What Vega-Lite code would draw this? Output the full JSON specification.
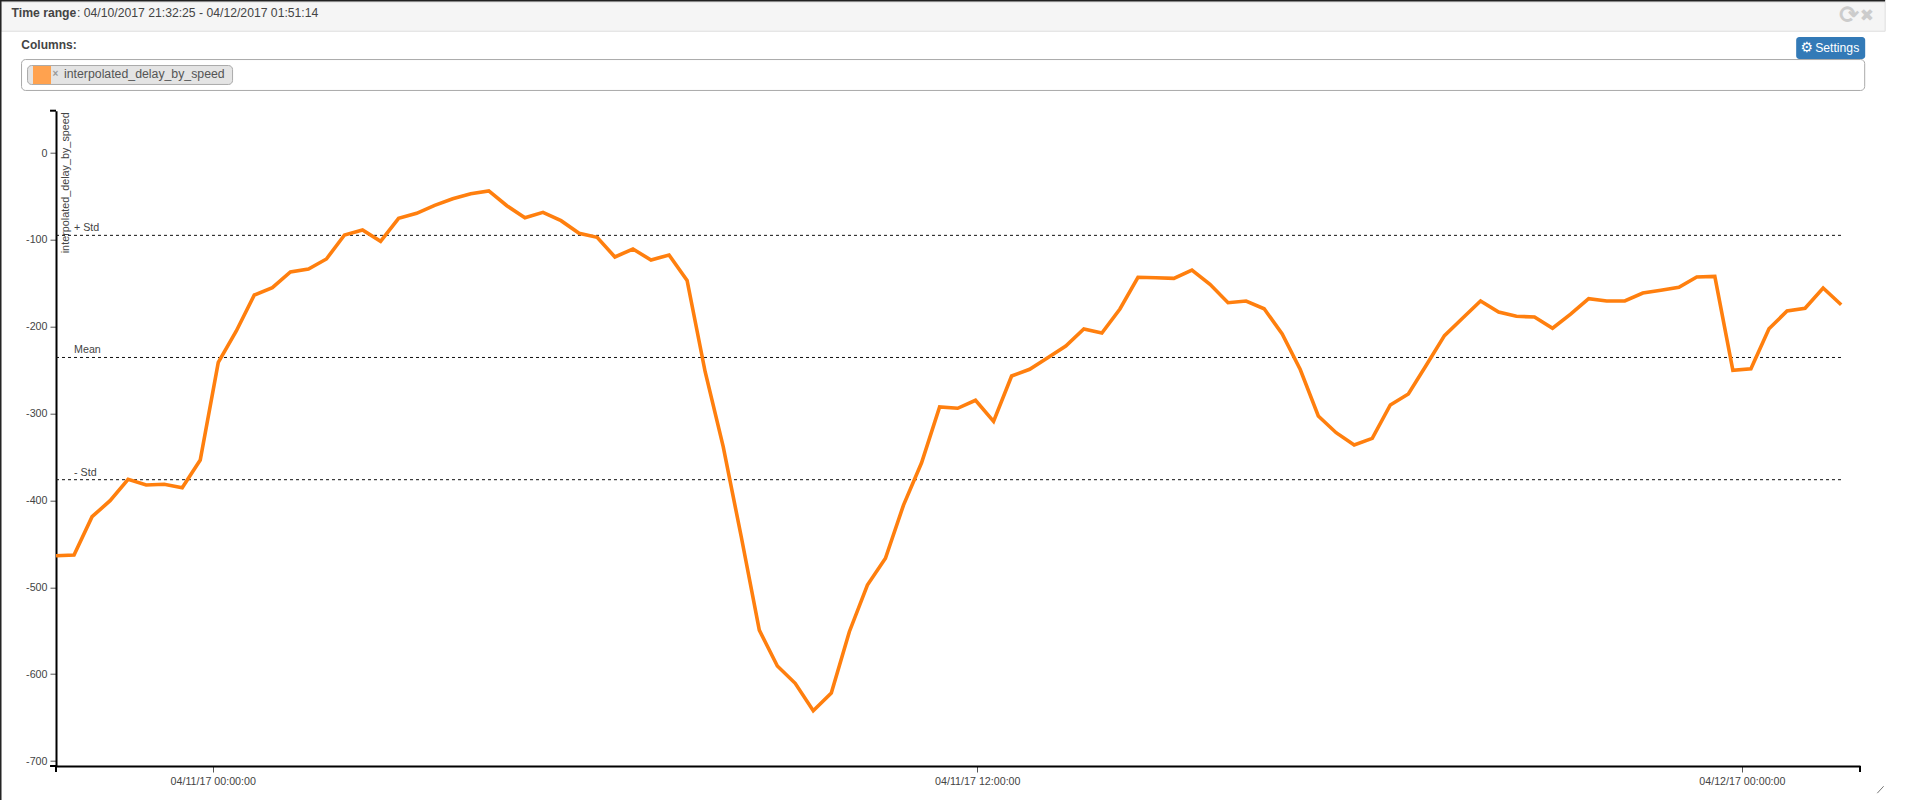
{"$schema":"https://vega.github.io/schema/vega-lite/v6.json","width":1804,"height":655.3,"autosize":{"type":"none"},"padding":{"left":56,"top":110.7,"right":60,"bottom":34},"background":"white","resolve":{"axis":{"x":"independent","y":"independent"}},"config":{"view":{"stroke":null},"font":"Liberation Sans","text":{"font":"Liberation Sans","align":"left","baseline":"alphabetic"}},
"datasets":{"series":[
{"t":"2017-04-10T21:32:25","v":-463.6},{"t":"2017-04-10T21:49:24","v":-462.8},{"t":"2017-04-10T22:06:23","v":-418.7},{"t":"2017-04-10T22:23:21","v":-400.3},{"t":"2017-04-10T22:40:20","v":-375.7},{"t":"2017-04-10T22:57:19","v":-382.2},{"t":"2017-04-10T23:14:18","v":-381.4},{"t":"2017-04-10T23:31:17","v":-385.3},{"t":"2017-04-10T23:48:15","v":-353.4},{"t":"2017-04-11T00:05:14","v":-241},
{"t":"2017-04-11T00:22:13","v":-204.9},{"t":"2017-04-11T00:39:10","v":-163.5},{"t":"2017-04-11T00:56:10","v":-155.1},{"t":"2017-04-11T01:13:10","v":-137},{"t":"2017-04-11T01:30:10","v":-133.5},{"t":"2017-04-11T01:47:05","v":-122},{"t":"2017-04-11T02:04:05","v":-94.4},{"t":"2017-04-11T02:21:05","v":-88.6},{"t":"2017-04-11T02:38:05","v":-101.7},{"t":"2017-04-11T02:55:02","v":-75.2},
{"t":"2017-04-11T03:12:01","v":-69.4},{"t":"2017-04-11T03:29:00","v":-60.2},{"t":"2017-04-11T03:46:00","v":-52.6},{"t":"2017-04-11T04:03:00","v":-46.9},{"t":"2017-04-11T04:20:00","v":-43.7},{"t":"2017-04-11T04:37:00","v":-60.7},{"t":"2017-04-11T04:54:00","v":-74.5},{"t":"2017-04-11T05:11:00","v":-68.3},{"t":"2017-04-11T05:28:00","v":-77.9},{"t":"2017-04-11T05:45:00","v":-92.4},
{"t":"2017-04-11T06:02:00","v":-97.1},{"t":"2017-04-11T06:18:43","v":-119.7},{"t":"2017-04-11T06:35:43","v":-110.5},{"t":"2017-04-11T06:52:43","v":-123.2},{"t":"2017-04-11T07:09:43","v":-117.4},{"t":"2017-04-11T07:26:43","v":-146.8},{"t":"2017-04-11T07:43:43","v":-251.8},{"t":"2017-04-11T08:00:43","v":-338.1},{"t":"2017-04-11T08:17:43","v":-441.8},{"t":"2017-04-11T08:34:43","v":-549.2},
{"t":"2017-04-11T08:51:43","v":-590.6},{"t":"2017-04-11T09:08:31","v":-610.5},{"t":"2017-04-11T09:25:31","v":-642.1},{"t":"2017-04-11T09:42:31","v":-621.7},{"t":"2017-04-11T09:59:31","v":-551.1},{"t":"2017-04-11T10:16:31","v":-497.4},{"t":"2017-04-11T10:33:31","v":-466.6},{"t":"2017-04-11T10:50:31","v":-405.3},{"t":"2017-04-11T11:07:31","v":-356.6},{"t":"2017-04-11T11:24:31","v":-292.4},
{"t":"2017-04-11T11:41:31","v":-293.9},{"t":"2017-04-11T11:58:19","v":-284.7},{"t":"2017-04-11T12:15:19","v":-308.9},{"t":"2017-04-11T12:32:19","v":-256.7},{"t":"2017-04-11T12:49:19","v":-249},{"t":"2017-04-11T13:06:19","v":-235.7},{"t":"2017-04-11T13:23:19","v":-222.2},{"t":"2017-04-11T13:40:19","v":-202.6},{"t":"2017-04-11T13:57:19","v":-207.2},{"t":"2017-04-11T14:14:19","v":-179.6},
{"t":"2017-04-11T14:31:19","v":-143.1},{"t":"2017-04-11T14:48:07","v":-143.6},{"t":"2017-04-11T15:05:07","v":-144.3},{"t":"2017-04-11T15:22:07","v":-134.7},{"t":"2017-04-11T15:39:07","v":-151.2},{"t":"2017-04-11T15:56:07","v":-172.3},{"t":"2017-04-11T16:13:07","v":-170.4},{"t":"2017-04-11T16:30:07","v":-179.3},{"t":"2017-04-11T16:47:07","v":-208.4},{"t":"2017-04-11T17:04:07","v":-249.3},
{"t":"2017-04-11T17:21:07","v":-302.8},{"t":"2017-04-11T17:37:55","v":-322},{"t":"2017-04-11T17:54:55","v":-336.2},{"t":"2017-04-11T18:11:55","v":-328.5},{"t":"2017-04-11T18:28:55","v":-290.1},{"t":"2017-04-11T18:45:55","v":-277.5},{"t":"2017-04-11T19:02:55","v":-244.1},{"t":"2017-04-11T19:19:55","v":-210.3},{"t":"2017-04-11T19:36:55","v":-190.3},{"t":"2017-04-11T19:53:55","v":-170.4},
{"t":"2017-04-11T20:10:55","v":-183.1},{"t":"2017-04-11T20:27:43","v":-188},{"t":"2017-04-11T20:44:43","v":-188.8},{"t":"2017-04-11T21:01:43","v":-201.8},{"t":"2017-04-11T21:18:43","v":-185.6},{"t":"2017-04-11T21:35:43","v":-167.7},{"t":"2017-04-11T21:52:43","v":-170.4},{"t":"2017-04-11T22:09:43","v":-170.4},{"t":"2017-04-11T22:26:43","v":-161.2},{"t":"2017-04-11T22:43:43","v":-158.1},
{"t":"2017-04-11T23:00:43","v":-154.6},{"t":"2017-04-11T23:17:31","v":-142.8},{"t":"2017-04-11T23:34:31","v":-142},{"t":"2017-04-11T23:51:31","v":-250.2},{"t":"2017-04-12T00:08:31","v":-248.3},{"t":"2017-04-12T00:25:31","v":-202.3},{"t":"2017-04-12T00:42:31","v":-181.9},{"t":"2017-04-12T00:59:31","v":-178.8},{"t":"2017-04-12T01:16:31","v":-155.4},{"t":"2017-04-12T01:33:31","v":-174.7}],
"stats":[{"label":"+ Std","value":-94.8},{"label":"Mean","value":-235.4},{"label":"- Std","value":-376.1}]},
"layer":[
{"data":{"values":[{"part":"header"}]},"mark":{"type":"rect","fill":"#f5f5f5","stroke":"#dddddd","strokeWidth":1,"clip":false},"encoding":{"x":{"datum":{"year":2017,"month":4,"date":10,"hours":20,"minutes":40,"seconds":42},"type":"temporal","axis":null},"x2":{"datum":{"year":2017,"month":4,"date":12,"hours":2,"minutes":14,"seconds":57}},"y":{"datum":173.8,"type":"quantitative","axis":null},"y2":{"datum":140.2}}},
{"data":{"values":[{"part":"frame top"}]},"mark":{"type":"rule","stroke":"#222222","strokeWidth":2},"encoding":{"x":{"datum":{"year":2017,"month":4,"date":10,"hours":20,"minutes":39,"seconds":42},"type":"temporal","axis":null},"x2":{"datum":{"year":2017,"month":4,"date":12,"hours":2,"minutes":14,"seconds":57}},"y":{"datum":175.5,"type":"quantitative","axis":null}}},
{"data":{"values":[{"part":"frame left"}]},"mark":{"type":"rule","stroke":"#222222","strokeWidth":1.5},"encoding":{"x":{"datum":{"year":2017,"month":4,"date":10,"hours":20,"minutes":40,"seconds":24},"type":"temporal","axis":null},"y":{"datum":175.5,"type":"quantitative","axis":null},"y2":{"datum":-745}}},
{"data":{"values":[{"part":"resize grip"}]},"mark":{"type":"rule","stroke":"#777777","strokeWidth":1},"encoding":{"x":{"datum":{"year":2017,"month":4,"date":12,"hours":2,"minutes":7,"seconds":30},"type":"temporal","axis":null},"x2":{"datum":{"year":2017,"month":4,"date":12,"hours":2,"minutes":13,"seconds":30}},"y":{"datum":-737,"type":"quantitative","axis":null},"y2":{"datum":-729}}},
{"data":{"values":[{"label":"Time range"}]},"mark":{"type":"text","fontSize":12.2,"fontWeight":"bold","fill":"#444444"},"encoding":{"text":{"field":"label"},"x":{"datum":{"year":2017,"month":4,"date":10,"hours":20,"minutes":50,"seconds":32},"type":"temporal","axis":null},"y":{"datum":156.9,"type":"quantitative","axis":null}}},
{"data":{"values":[{"label":": 04/10/2017 21:32:25 - 04/12/2017 01:51:14"}]},"mark":{"type":"text","fontSize":12.2,"fill":"#444444"},"encoding":{"text":{"field":"label"},"x":{"datum":{"year":2017,"month":4,"date":10,"hours":21,"minutes":52,"seconds":14},"type":"temporal","axis":null},"y":{"datum":156.9,"type":"quantitative","axis":null}}},
{"data":{"values":[{"label":"Columns:"}]},"mark":{"type":"text","fontSize":12,"fontWeight":"bold","fill":"#444444"},"encoding":{"text":{"field":"label"},"x":{"datum":{"year":2017,"month":4,"date":10,"hours":20,"minutes":59,"seconds":46},"type":"temporal","axis":null},"y":{"datum":120.1,"type":"quantitative","axis":null}}},
{"data":{"values":[{"part":"columns box"}]},"mark":{"type":"rect","fill":"white","stroke":"#aaaaaa","strokeWidth":1,"cornerRadius":4,"clip":false},"encoding":{"x":{"datum":{"year":2017,"month":4,"date":10,"hours":20,"minutes":59,"seconds":58},"type":"temporal","axis":null},"x2":{"datum":{"year":2017,"month":4,"date":12,"hours":1,"minutes":55,"seconds":39}},"y":{"datum":107.6,"type":"quantitative","axis":null},"y2":{"datum":72}}},
{"data":{"values":[{"part":"chip"}]},"mark":{"type":"rect","fill":"#e4e4e4","stroke":"#aaaaaa","strokeWidth":1,"cornerRadius":4},"encoding":{"x":{"datum":{"year":2017,"month":4,"date":10,"hours":21,"minutes":5,"seconds":37},"type":"temporal","axis":null},"x2":{"datum":{"year":2017,"month":4,"date":11,"hours":0,"minutes":18,"seconds":41}},"y":{"datum":100.7,"type":"quantitative","axis":null},"y2":{"datum":78.9}}},
{"data":{"values":[{"part":"swatch"}]},"mark":{"type":"rect","fill":"#ffa24f"},"encoding":{"x":{"datum":{"year":2017,"month":4,"date":10,"hours":21,"minutes":10,"seconds":47},"type":"temporal","axis":null},"x2":{"datum":{"year":2017,"month":4,"date":10,"hours":21,"minutes":27,"seconds":44}},"y":{"datum":100.2,"type":"quantitative","axis":null},"y2":{"datum":79.4}}},
{"data":{"values":[{"label":"×"}]},"mark":{"type":"text","fontSize":10,"fontWeight":"bold","fill":"#999999","align":"center","baseline":"middle"},"encoding":{"text":{"field":"label"},"x":{"datum":{"year":2017,"month":4,"date":10,"hours":21,"minutes":31,"seconds":59},"type":"temporal","axis":null},"y":{"datum":90.5,"type":"quantitative","axis":null}}},
{"data":{"values":[{"label":"interpolated_delay_by_speed"}]},"mark":{"type":"text","fontSize":12.3,"fill":"#555555"},"encoding":{"text":{"field":"label"},"x":{"datum":{"year":2017,"month":4,"date":10,"hours":21,"minutes":39,"seconds":59},"type":"temporal","axis":null},"y":{"datum":86.7,"type":"quantitative","axis":null}}},
{"data":{"values":[{"part":"settings"}]},"mark":{"type":"rect","fill":"#337ab7","cornerRadius":3},"encoding":{"x":{"datum":{"year":2017,"month":4,"date":12,"hours":0,"minutes":51,"seconds":8},"type":"temporal","axis":null},"x2":{"datum":{"year":2017,"month":4,"date":12,"hours":1,"minutes":56,"seconds":7}},"y":{"datum":133.6,"type":"quantitative","axis":null},"y2":{"datum":108.2}}},
{"data":{"values":[{"label":"Settings"}]},"mark":{"type":"text","fontSize":12.2,"fill":"white"},"encoding":{"text":{"field":"label"},"x":{"datum":{"year":2017,"month":4,"date":12,"hours":1,"minutes":9,"seconds":2},"type":"temporal","axis":null},"y":{"datum":115.9,"type":"quantitative","axis":null}}},
{"data":{"values":[{"label":"⚙"}]},"mark":{"type":"text","font":"DejaVu Sans","fontSize":14,"fontWeight":"bold","fill":"white","align":"center","baseline":"middle"},"encoding":{"text":{"field":"label"},"x":{"datum":{"year":2017,"month":4,"date":12,"hours":1,"minutes":1,"seconds":13},"type":"temporal","axis":null},"y":{"datum":120.9,"type":"quantitative","axis":null}}},
{"data":{"values":[{"label":"⟳"}]},"mark":{"type":"text","font":"DejaVu Sans","fontSize":24,"fontWeight":"bold","fill":"#cccccc","align":"center","baseline":"middle"},"encoding":{"text":{"field":"label"},"x":{"datum":{"year":2017,"month":4,"date":12,"hours":1,"minutes":41,"seconds":3},"type":"temporal","axis":null},"y":{"datum":158.1,"type":"quantitative","axis":null}}},
{"data":{"values":[{"label":"✖"}]},"mark":{"type":"text","font":"DejaVu Sans","fontSize":17,"fill":"#cccccc","align":"center","baseline":"middle"},"encoding":{"text":{"field":"label"},"x":{"datum":{"year":2017,"month":4,"date":12,"hours":1,"minutes":57,"seconds":43},"type":"temporal","axis":null},"y":{"datum":158.1,"type":"quantitative","axis":null}}},
{"data":{"name":"stats"},"mark":{"type":"rule","stroke":"#111111","strokeWidth":1,"strokeDash":[3,3]},"encoding":{"x":{"datum":{"year":2017,"month":4,"date":10,"hours":21,"minutes":32,"seconds":25},"type":"temporal","axis":null},"x2":{"datum":{"year":2017,"month":4,"date":12,"hours":1,"minutes":33,"seconds":31}},"y":{"field":"value","type":"quantitative","axis":null}}},
{"data":{"name":"stats"},"mark":{"type":"text","fontSize":10.7,"fill":"#444444","dy":-4},"encoding":{"text":{"field":"label"},"x":{"datum":{"year":2017,"month":4,"date":10,"hours":21,"minutes":49,"seconds":24},"type":"temporal","axis":null},"y":{"field":"value","type":"quantitative","axis":null}}},
{"data":{"values":[{"part":"top end tick","y":48.7},{"part":"bottom end tick","y":-705.7}]},"mark":{"type":"rule","stroke":"black","strokeWidth":2},"encoding":{"x":{"datum":{"year":2017,"month":4,"date":10,"hours":21,"minutes":26,"seconds":48},"type":"temporal","axis":null},"x2":{"datum":{"year":2017,"month":4,"date":10,"hours":21,"minutes":32,"seconds":25}},"y":{"field":"y","type":"quantitative","axis":null}}},
{"data":{"values":[{"part":"left end tick"}]},"mark":{"type":"rule","stroke":"black","strokeWidth":2},"encoding":{"x":{"datum":{"year":2017,"month":4,"date":10,"hours":21,"minutes":32,"seconds":25},"type":"temporal","axis":null},"y":{"datum":-705.7,"type":"quantitative","axis":null},"y2":{"datum":-712.7}}},
{"data":{"values":[{"part":"right end tick"}]},"mark":{"type":"rule","stroke":"black","strokeWidth":2},"encoding":{"x":{"datum":{"year":2017,"month":4,"date":12,"hours":1,"minutes":51,"seconds":14},"type":"temporal","axis":null},"y":{"datum":-705.7,"type":"quantitative","axis":null},"y2":{"datum":-712.7}}},
{"data":{"name":"series"},"mark":{"type":"line","stroke":"#ff7f0e","strokeWidth":3.6,"strokeJoin":"miter","interpolate":"linear"},"encoding":{
"x":{"field":"t","type":"temporal","title":null,"scale":{"domain":[{"year":2017,"month":4,"date":10,"hours":21,"minutes":32,"seconds":25},{"year":2017,"month":4,"date":12,"hours":1,"minutes":51,"seconds":14}],"nice":false},"axis":{"values":[{"year":2017,"month":4,"date":11,"hours":0},{"year":2017,"month":4,"date":11,"hours":12},{"year":2017,"month":4,"date":12,"hours":0}],"format":"%m/%d/%y %H:%M:%S","grid":false,"domainColor":"black","domainWidth":2,"tickColor":"#555555","tickWidth":1,"tickSize":6,"labelFontSize":10.7,"labelColor":"#444444","labelFont":"Liberation Sans","labelPadding":4,"labelFlush":false,"labelOverlap":false}},
"y":{"field":"v","type":"quantitative","title":"interpolated_delay_by_speed","scale":{"domain":[-705.7,48.7],"nice":false,"zero":false},"axis":{"values":[-700,-600,-500,-400,-300,-200,-100,0],"labelExpr":"'' + datum.value","grid":false,"domainColor":"black","domainWidth":2,"tickColor":"#555555","tickWidth":1,"tickSize":6,"labelFontSize":10.7,"labelColor":"#444444","labelFont":"Liberation Sans","labelPadding":3,"titleFont":"Liberation Sans","titleFontSize":10.8,"titleFontWeight":"normal","titleColor":"#444444","titleAngle":-90,"titleAlign":"right","titleBaseline":"alphabetic","titleX":12.5,"titleY":1}}}}
]}
